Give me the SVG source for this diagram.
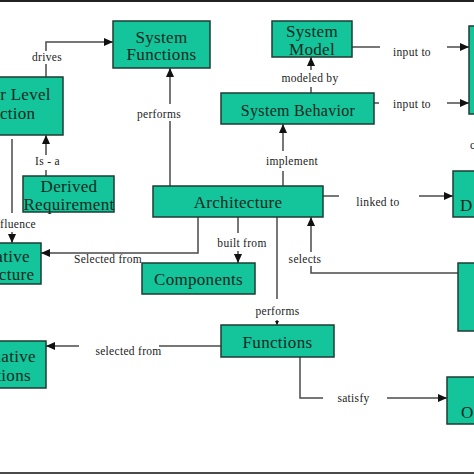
<svg xmlns="http://www.w3.org/2000/svg" width="474" height="474" viewBox="0 0 474 474">
<defs>
<marker id="ah" markerUnits="userSpaceOnUse" markerWidth="10" markerHeight="8" refX="9" refY="4" orient="auto">
<path d="M0,0 L9,4 L0,8 Z" fill="#111"/>
</marker>
<marker id="ahs" markerUnits="userSpaceOnUse" markerWidth="5" markerHeight="4" refX="4" refY="2" orient="auto">
<path d="M0,0 L4,2 L0,4 Z" fill="#111"/>
</marker>
<style>
.n{fill:#14c49a;stroke:#1d3d33;stroke-width:1.5}
.t{font-family:"Liberation Serif","Times New Roman",serif;font-size:17px;fill:#0f2a22;text-anchor:middle;letter-spacing:0.3px}
.l{font-family:"Liberation Serif","Times New Roman",serif;font-size:11.5px;fill:#222;text-anchor:middle;letter-spacing:0.3px}
.c{fill:none;stroke:#4a4a4a;stroke-width:1.5}
.a{marker-end:url(#ah)}
</style>
</defs>
<rect x="0" y="0" width="474" height="474" fill="#fff"/>
<rect x="0" y="0" width="474" height="2" fill="#222"/>
<rect x="0" y="472" width="474" height="2" fill="#4a4a4a"/>

<g id="connectors">
<path class="c" d="M46,77 V64"/>
<path class="c a" d="M46,51 V42 H113"/>
<path class="c" d="M170,186 V121"/>
<path class="c a" d="M170,104 V68"/>
<path class="c" d="M311,93 V87"/>
<path class="c a" d="M311,70 V57"/>
<path class="c" d="M352,47 H380"/>
<path class="c a" d="M447,47 H469"/>
<path class="c" d="M374,103 H379"/>
<path class="c a" d="M447,103 H469"/>
<path class="c" d="M283,186 V171"/>
<path class="c a" d="M283,151 V124"/>
<path class="c" d="M46,176 V170"/>
<path class="c a" d="M46,155 V135"/>
<path class="c" d="M12,139 V213"/>
<path class="c a" d="M12,232 V243"/>
<path class="c a" d="M198,217 V253 H41"/>
<path class="c" d="M238,217 V233"/>
<path class="c a" d="M238,251 V263"/>
<path class="c" d="M323,196 H339"/>
<path class="c a" d="M419,196 H453"/>
<path class="c" d="M458,273 H311 V266"/>
<path class="c a" d="M311,252 V217"/>
<path class="c" d="M277,217 V299"/>
<path class="c" style="marker-end:url(#ahs)" d="M277,320 V325"/>
<path class="c" d="M221,346 H159"/>
<path class="c a" d="M79,346 H46"/>
<path class="c" d="M300,357 V398 H323"/>
<path class="c a" d="M387,398 H447"/>
</g>

<g id="labels">
<text class="l" x="47" y="61">drives</text>
<text class="l" x="159" y="118">performs</text>
<text class="l" x="310" y="82">modeled by</text>
<text class="l" x="412" y="56">input to</text>
<text class="l" x="412" y="108">input to</text>
<text class="l" x="292" y="165">implement</text>
<text class="l" x="47.5" y="165">Is - a</text>
<text class="l" x="36" y="228" style="text-anchor:end">Influence</text>
<text class="l" x="108" y="263">Selected from</text>
<text class="l" x="242" y="247">built from</text>
<text class="l" x="378" y="206">linked to</text>
<text class="l" x="305" y="263">selects</text>
<text class="l" x="277.5" y="315">performs</text>
<text class="l" x="128.5" y="355">selected from</text>
<text class="l" x="353.5" y="402">satisfy</text>
<text class="l" x="470" y="149" style="text-anchor:start">c</text>
</g>

<g id="system-functions">
<rect class="n" x="113" y="21" width="97" height="47"/>
<text class="t" x="161.5" y="43">System</text>
<text class="t" x="161.5" y="60">Functions</text>
</g>
<g id="higher-level-function">
<rect class="n" x="-50" y="77" width="113" height="58"/>
<text class="t" x="4" y="100">Higher Level</text>
<text class="t" x="4" y="119">Function</text>
</g>
<g id="system-model">
<rect class="n" x="272" y="21" width="80" height="36"/>
<text class="t" x="312" y="37">System</text>
<text class="t" x="312" y="55">Model</text>
</g>
<g id="system-behavior">
<rect class="n" x="221" y="93" width="153" height="31"/>
<text class="t" x="298" y="116" style="font-size:16px">System Behavior</text>
</g>
<g id="top-right">
<rect class="n" x="469" y="26" width="20" height="88"/>
</g>
<g id="architecture">
<rect class="n" x="153" y="186" width="170" height="31"/>
<text class="t" x="238" y="208">Architecture</text>
</g>
<g id="derived-requirement">
<rect class="n" x="23" y="176" width="91" height="36"/>
<text class="t" x="69" y="192">Derived</text>
<text class="t" x="69" y="210">Requirement</text>
</g>
<g id="alternative-architecture">
<rect class="n" x="-60" y="243" width="101" height="41"/>
<text class="t" x="-10" y="262">Alternative</text>
<text class="t" x="-10" y="280">Architecture</text>
</g>
<g id="components">
<rect class="n" x="142" y="263" width="113" height="31"/>
<text class="t" x="198.5" y="285">Components</text>
</g>
<g id="d-box">
<rect class="n" x="453" y="171" width="30" height="46"/>
<text class="t" x="460" y="211" style="text-anchor:start">D</text>
</g>
<g id="right-middle">
<rect class="n" x="458" y="263" width="30" height="68"/>
</g>
<g id="functions">
<rect class="n" x="221" y="325" width="113" height="32"/>
<text class="t" x="277.5" y="348">Functions</text>
</g>
<g id="alternative-functions">
<rect class="n" x="-60" y="341" width="106" height="47"/>
<text class="t" x="-4" y="362">Alternative</text>
<text class="t" x="-4" y="381">Functions</text>
</g>
<g id="o-box">
<rect class="n" x="447" y="377" width="40" height="47"/>
<text class="t" x="461" y="418" style="text-anchor:start">O</text>
</g>
</svg>
